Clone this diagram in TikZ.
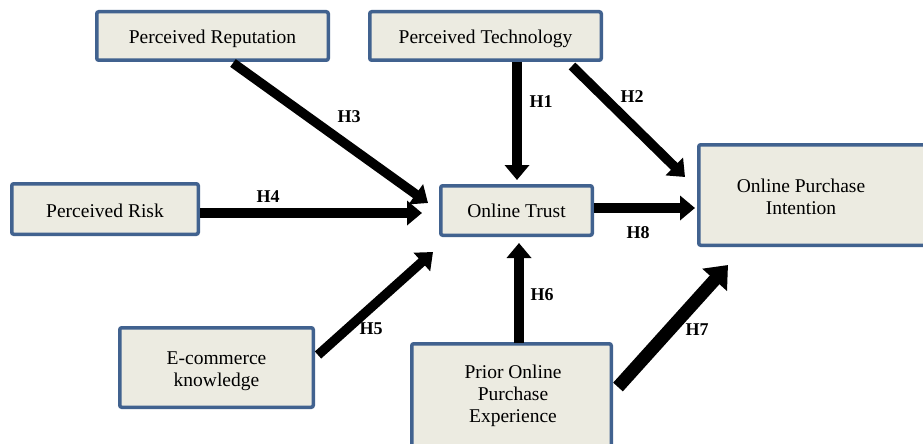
\documentclass[tikz,border=0pt]{standalone}
\usepackage{fontspec}
\setmainfont{Liberation Serif}
\usetikzlibrary{arrows.meta,calc}
\definecolor{boxfill}{HTML}{ECEBE1}
\definecolor{boxline}{HTML}{41628F}
\tikzset{
  cbox/.style={draw=boxline, fill=boxfill, line width=3.5pt, rounded corners=2pt,
    inner sep=0pt, font=\fontsize{19.5}{22}\selectfont, align=center},
  btext/.style={font=\fontsize{19.5}{22}\selectfont, align=center, inner sep=0pt},
  hyp/.style={line width=9.5pt, -{Triangle[width=24pt,length=15pt]}},
  hypbig/.style={line width=13pt, -{Triangle[width=32pt,length=20pt]}},
  hlab/.style={font=\fontsize{18}{20}\selectfont\bfseries, inner sep=0pt},
}
\begin{document}
\begin{tikzpicture}[x=1pt,y=-1pt]
\useasboundingbox (0,0) rectangle (923,444);
\fill[white] (0,0) rectangle (923,444);
\clip (0,0) rectangle (923,444);

% boxes
\node[cbox, minimum width=231.5pt, minimum height=48.5pt] (rep) at (212.5,36) {};
\node[btext] (reptext) at (212.5,38.5) {Perceived Reputation};
\node[cbox, minimum width=231.5pt, minimum height=48.5pt] (tech) at (485.5,36) {};
\node[btext] (techtext) at (485.5,38.5) {Perceived Technology};
\node[cbox, minimum width=186.5pt, minimum height=50.5pt] (risk) at (105,209) {};
\node[btext] (risktext) at (105,210.5) {Perceived Risk};
\node[cbox, minimum width=151.5pt, minimum height=49.5pt] (trust) at (516.5,210.5) {Online Trust};
\node[cbox, minimum width=239.5pt, minimum height=100.5pt] (intent) at (818.5,195) {};
\node[btext] (intenttext) at (801,197) {Online Purchase\\Intention};
\node[cbox, minimum width=193.5pt, minimum height=79.5pt] (ecom) at (216.5,367.5) {};
\node[btext] (ecomtext) at (216.5,371.5) {E-commerce\\knowledge};
\node[cbox, minimum width=199.5pt, minimum height=114.5pt] (prior) at (511.5,401) {};
\node[btext] (priortext) at (513,396) {Prior Online\\Purchase\\Experience};

% hypotheses
\draw[hyp] ($(rep.south)+(20.5,1)$) -- ($(trust.west)+(-11,-7.5)$);
\draw[hyp] ($(tech.south)+(31.5,0)$) -- ($(trust.north)+(0.5,-4)$);
\draw[hyp] ($(tech.south)+(86.5,4)$) -- ($(intent.north west)+(-12,34)$);
\draw[hyp] ($(risk.east)+(0,4)$) -- ($(trust.west)+(-17,2.5)$);
\draw[hyp] ($(trust.east)+(0,-2.5)$) -- ($(intent.west)+(-2,13)$);
\draw[hyp] ($(ecom.east)+(3,-12.5)$) -- ($(trust.south west)+(-6,15)$);
\draw[hyp] ($(prior.north)+(7.5,1)$) -- ($(trust.south)+(2.5,6)$);
\draw[hypbig] ($(prior.east)+(5,-14)$) -- ($(intent.south west)+(31,18)$);

% labels
\node[hlab] (h3) at (349,117) {H3};
\node[hlab] (h1) at (541,102) {H1};
\node[hlab] (h2) at (632,97) {H2};
\node[hlab] (h4) at (268,197) {H4};
\node[hlab] (h8) at (638,233) {H8};
\node[hlab] (h5) at (371,329) {H5};
\node[hlab] (h6) at (542,295) {H6};
\node[hlab] (h7) at (697,330) {H7};
\end{tikzpicture}
\end{document}
